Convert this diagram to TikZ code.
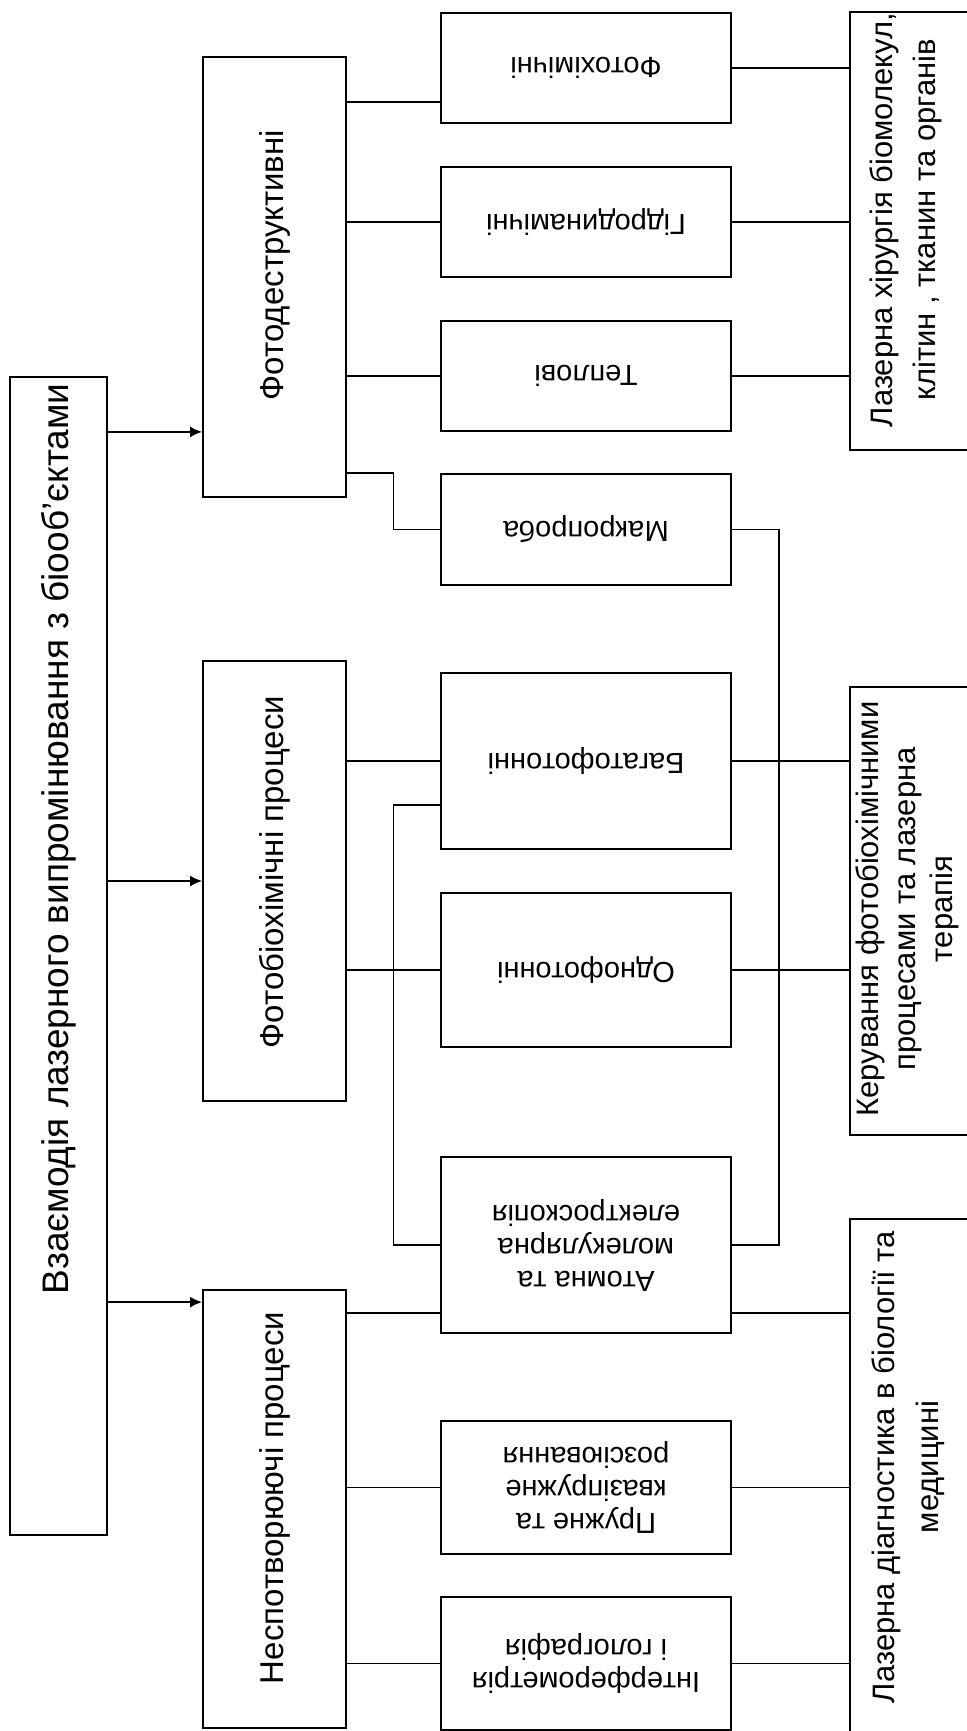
\documentclass[tikz,border=0pt]{standalone}
\usepackage{fontspec}
\setmainfont{Liberation Sans}
\usetikzlibrary{arrows.meta,positioning,calc}

\begin{document}
\begin{tikzpicture}[
        x=1pt, y=1pt,
        font=\fontsize{31}{37}\selectfont,
        block/.style = {rectangle, draw, line width=1.8pt, inner sep=0pt},
        mainblock/.style = {block, minimum width=97pt, minimum height=1158pt},
        groupblock/.style = {block, minimum width=143pt, minimum height=440pt},
        subblock/.style = {block, minimum width=290pt},
        resblock/.style = {block, minimum width=118pt},
        vtext/.style = {rotate=90, align=center},
        ftext/.style = {rotate=180, align=center, font=\fontsize{29}{33}\selectfont},
        line/.style = {draw, line width=1.8pt},
        arrow/.style = {line, -{Latex[length=12pt,width=11pt]}}
    ]
        \useasboundingbox (0,0) rectangle (966,-1731);

        % Place nodes
        \node [mainblock] at (58.5,-956) (main) {};
        \node [vtext, anchor=east, font=\fontsize{37}{42}\selectfont] at ($(main.north)+(0,-4)$) {Взаємодія лазерного випромінювання з біооб'єктами};

        \node [groupblock] at (274.5,-277) (destr) {};
        \node [vtext, font=\fontsize{33}{38}\selectfont] at ($(destr.center)+(0,12)$) {Фотодеструктивні};
        \node [groupblock] at (274.5,-881) (biochem) {};
        \node [vtext, font=\fontsize{33}{38}\selectfont] at ($(biochem.center)+(0,9)$) {Фотобіохімічні процеси};
        \node [groupblock, minimum height=438pt] at (274.5,-1509) (nondestr) {};
        \node [vtext, font=\fontsize{33}{38}\selectfont] at ($(nondestr.center)+(0,11)$) {Неспотворюючі процеси};

        \node [subblock, minimum height=110pt] at (586,-68) (destrsub1) {};
        \node [ftext] at (destrsub1.center) {Фотохімічні};
        \node [subblock, minimum height=110pt] at (586,-222) (destrsub2) {};
        \node [ftext] at (destrsub2.center) {Гідродинамічні};
        \node [subblock, minimum height=110pt] at (586,-376) (destrsub3) {};
        \node [ftext] at (destrsub3.center) {Теплові};
        \node [subblock, minimum height=111pt] at (586,-529.5) (destrsub4) {};
        \node [ftext] at (destrsub4.center) {Макропроба};

        \node [subblock, minimum height=176pt] at (586,-761) (biosub1) {};
        \node [ftext] at (biosub1.center) {Багатофотонні};
        \node [subblock, minimum height=154pt] at (586,-970) (biosub2) {};
        \node [ftext] at (biosub2.center) {Однофотонні};

        \node [subblock, minimum height=176pt] at (586,-1245) (nonsub1) {};
        \node [ftext] at (nonsub1.center) {Атомна та\\ молекулярна\\ електроскопія};
        \node [subblock, minimum height=133pt] at (586,-1487.5) (nonsub2) {};
        \node [ftext] at (nonsub2.center) {Пружне та\\ квазіпружне\\ розсіювання};
        \node [subblock, minimum height=133pt] at (586,-1663.5) (nonsub3) {};
        \node [ftext] at (nonsub3.center) {Інтерферометрія\\ і голографія};

        \node [resblock, minimum height=438pt] at (909,-231) (surgery) {};
        \node [vtext] at ($(surgery.center)+(-3,11)$) {Лазерна хірургія біомолекул,\\[6pt] клітин , тканин та органів};
        \node [resblock, minimum height=448pt] at (909,-911) (therapy) {};
        \node [vtext] at ($(therapy.center)+(-2,2)$) {Керування фотобіохімічними\\ процесами та лазерна\\ терапія};
        \node [resblock, minimum height=516pt] at (909,-1477) (diagnost) {};
        \node [vtext] at ($(diagnost.center)+(-1,10)$) {Лазерна діагностика в біології та\\[7pt] медицині};

        \coordinate (lbus) at ($(destr.east)!0.5!(destrsub4.west)$);
        \coordinate (rbus) at ($(destrsub4.east)+(47,0)$);

        % Draw edges
        \draw [arrow] ($(main.east |- destr.south)+(0,66)$) -- ($(destr.south west)+(0,66)$);
        \draw [arrow] (main.east |- biochem.west) -- (biochem.west);
        \draw [arrow] ($(main.east |- nondestr.north)+(0,-13)$) -- ($(nondestr.north west)+(0,-13)$);

        \draw [line] ($(destrsub1.south west)+(0,22)$) coordinate (p1) -- (p1 -| destr.east);
        \draw [line] (destrsub2.west) -- (destrsub2.west -| destr.east);
        \draw [line] (destrsub3.west) -- (destrsub3.west -| destr.east);
        \draw [line] (destr.east |- destrsub4.north) -| (lbus |- destrsub4.west) -- (destrsub4.west);

        \draw [line] (biosub1.west) -- (biosub1.west -| biochem.east);
        \draw [line] (biosub2.west) -- (biosub2.west -| biochem.east);
        \draw [line] ($(biosub1.west)+(0,-44)$) coordinate (p2) -| (lbus |- nonsub1.west) -- (nonsub1.west);
        \draw [line] (destrsub4.east) -| (rbus |- nonsub1.east) -- (nonsub1.east);

        \draw [line] ($(nonsub1.south west)+(0,21)$) coordinate (p3) -- (p3 -| nondestr.east);
        \draw [line] (nonsub2.west) -- (nonsub2.west -| nondestr.east);
        \draw [line] (nonsub3.west) -- (nonsub3.west -| nondestr.east);

        \draw [line] (destrsub1.east) -- (destrsub1.east -| surgery.west);
        \draw [line] (destrsub2.east) -- (destrsub2.east -| surgery.west);
        \draw [line] (destrsub3.east) -- (destrsub3.east -| surgery.west);
        \draw [line] (biosub1.east) -- (biosub1.east -| therapy.west);
        \draw [line] (biosub2.east) -- (biosub2.east -| therapy.west);
        \draw [line] ($(nonsub1.south east)+(0,21)$) coordinate (p4) -- (p4 -| diagnost.west);
        \draw [line] (nonsub2.east) -- (nonsub2.east -| diagnost.west);
        \draw [line] (nonsub3.east) -- (nonsub3.east -| diagnost.west);

    \end{tikzpicture}
\end{document}
